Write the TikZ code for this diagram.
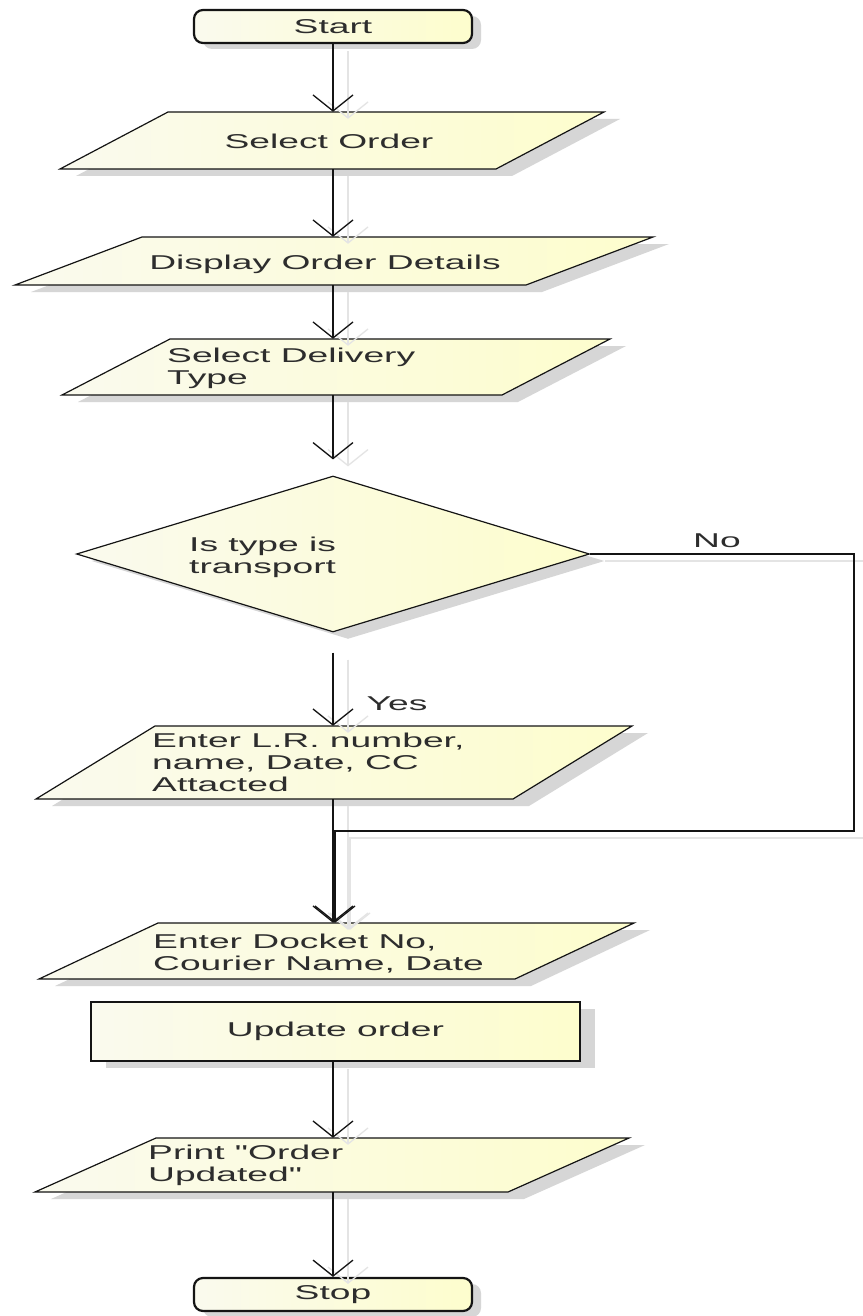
\documentclass[tikz,border=0pt]{standalone}
\usepackage{fontspec}
\setmainfont{Liberation Sans}[FakeStretch=1.86, Ligatures=TeXOff]
\usetikzlibrary{arrows.meta,shapes.geometric,shadows}

\definecolor{fillL}{RGB}{250,250,238}
\definecolor{fillR}{RGB}{253,253,205}
\definecolor{shadowgray}{RGB}{214,214,214}
\definecolor{ghostgray}{RGB}{228,228,228}
\definecolor{inkc}{RGB}{20,20,20}
\definecolor{txt}{RGB}{45,45,45}

% input/output parallelogram: name, top y, bottom y, top-left x, bottom-left x, width
\newcommand\ioshape[6]{%
  \fill[shadowgray] (#5+16,#3+7) -- (#5+#6+16,#3+7) -- (#4+#6+16,#2+7) -- (#4+16,#2+7) -- cycle;
  \draw[ioline] (#5,#3) -- (#5+#6,#3) -- (#4+#6,#2) -- (#4,#2) -- cycle;
  \node[slot, minimum height={(#3-#2)*1pt}] (#1) at (333,{(#2+#3)/2}) {};
}

\begin{document}
\begin{tikzpicture}[x=1pt, y=-1pt, font=\fontsize{20}{22}\selectfont,
  ioline/.style={draw=inkc, line width=1.2pt, left color=fillL, right color=fillR},
  slot/.style={shape=rectangle, draw=none, inner sep=0pt, minimum width=200pt},
  lbl/.style={inner sep=0pt, text=txt, align=left},
  termbox/.style={shape=rectangle, rounded corners=9pt, draw=inkc, line width=2.2pt,
    left color=fillL, right color=fillR, minimum width=278pt, minimum height=33pt,
    inner sep=0pt, text=txt,
    drop shadow={shadow xshift=9pt, shadow yshift=-6pt, fill=shadowgray, opacity=1}},
  procbox/.style={shape=rectangle, draw=inkc, line width=1.5pt,
    left color=fillL, right color=fillR, minimum width=489pt, minimum height=59pt,
    inner sep=0pt, text=txt,
    drop shadow={shadow xshift=15pt, shadow yshift=-7pt, fill=shadowgray, opacity=1}},
  decbox/.style={shape=diamond, draw=inkc, line width=1.2pt,
    left color=fillL, right color=fillR, minimum width=513pt, minimum height=156pt,
    inner sep=0pt,
    drop shadow={shadow xshift=15pt, shadow yshift=-7pt, fill=shadowgray, opacity=1}},
  flow/.style={draw=inkc, line width=1.3pt, -{Straight Barb[length=16pt,width=40pt]}},
  ghost/.style={draw=ghostgray, line width=1.3pt, -{Straight Barb[length=16pt,width=40pt]}}
]
\fill[white] (0,0) rectangle (862,1316);
\useasboundingbox (0,0) rectangle (862,1316);

% shapes
\node[termbox] (start) at (333,26.5) {Start};
\ioshape{sel}{112}{169}{168}{60}{436}
\ioshape{disp}{237}{285}{142}{15}{511}
\ioshape{deliv}{339}{395}{170}{62}{440}
\node[decbox] (dia) at (333,554) {};
\ioshape{lr}{726}{799}{155}{36}{477}
\ioshape{dock}{923}{979}{158}{39}{476}
\node[procbox] (upd) at (335.5,1031.5) {Update order};
\ioshape{prt}{1138}{1192}{156}{35}{473}
\node[termbox] (stop) at (333,1294.5) {Stop};

\coordinate (corner) at (854,831);

% connector shadows
\begin{scope}[transform canvas={xshift=15pt,yshift=-7pt}]
  \draw[ghost] (start) -- (sel);
  \draw[ghost] (sel) -- (disp);
  \draw[ghost] (disp) -- (deliv);
  \draw[ghost, shorten >=16pt] (deliv) -- (dia);
  \draw[ghost, shorten <=20pt] (dia) -- (lr);
  \draw[ghost] (lr) -- (dock);
  \draw[ghost] (dia.east) -| (corner) -| ([xshift=2pt]dock.north);
  \draw[ghost] (upd.south -| prt) -- (prt);
  \draw[ghost] (prt) -- (stop);
\end{scope}

% connectors
\draw[flow] (start) -- (sel);
\draw[flow] (sel) -- (disp);
\draw[flow] (disp) -- (deliv);
\draw[flow, shorten >=16pt] (deliv) -- (dia);
\draw[flow, shorten <=20pt] (dia) -- (lr);
\draw[flow] (lr) -- (dock);
\draw[flow] (dia.east) -| (corner) -| ([xshift=2pt]dock.north);
\draw[flow] (upd.south -| prt) -- (prt);
\draw[flow] (prt) -- (stop);

% texts
\node[lbl, anchor=base] (selT) at (329,149) {Select Order};
\node[lbl, anchor=base] (dispT) at (325,269) {Display Order Details};
\node[lbl, anchor=north west] (delivT) at (167,347.6) {Select Delivery\\Type};
\node[lbl, anchor=north west] (diaT) at (189,536.6) {Is type is\\transport};
\node[lbl, anchor=north west] (lrT) at (152,732.6) {Enter L.R. number,\\name, Date, CC\\Attacted};
\node[lbl, anchor=north west] (dockT) at (153,933.6) {Enter Docket No,\\Courier Name, Date};
\node[lbl, anchor=north west] (prtT) at (148,1144.6) {Print "Order\\Updated"};
\node[lbl, anchor=base] (noT) at (717,547) {No};
\node[lbl, anchor=base] (yesT) at (397,710) {Yes};
\end{tikzpicture}
\end{document}
